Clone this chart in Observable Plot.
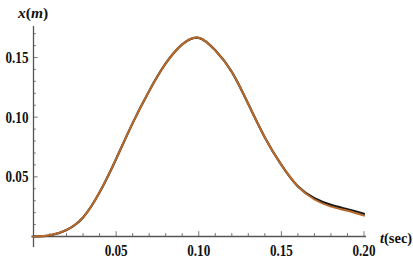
<!DOCTYPE html>
<html>
<head>
<meta charset="utf-8">
<script src="https://cdn.jsdelivr.net/npm/d3@7"></script>
<script src="https://cdn.jsdelivr.net/npm/@observablehq/plot@0.6"></script>
<style>
  html, body { margin: 0; padding: 0; background: #fff; }
  #chart svg { display: block; }
</style>
</head>
<body>
<div id="chart"></div>
<script>
// time (sec)
const tValues = [0, 0.01, 0.02, 0.03, 0.04, 0.05, 0.06, 0.07, 0.08, 0.09, 0.10,
                 0.11, 0.12, 0.13, 0.14, 0.15, 0.16, 0.17, 0.18, 0.19, 0.20];
// displacement x(m), series 1 (black, underneath)
const seriesBlack = [0, 0.001, 0.0055, 0.016, 0.037, 0.065, 0.095, 0.122, 0.145, 0.161, 0.1665,
                     0.156, 0.138, 0.111, 0.083, 0.060, 0.042, 0.032, 0.0265, 0.0228, 0.019];
// displacement x(m), series 2 (orange, on top)
const seriesOrange = [0, 0.001, 0.0055, 0.016, 0.037, 0.065, 0.095, 0.122, 0.145, 0.161, 0.1665,
                      0.156, 0.138, 0.111, 0.083, 0.060, 0.042, 0.031, 0.025, 0.0215, 0.0175];
const xTicksMajor = [0.05, 0.10, 0.15, 0.20];
const yTicksMajor = [0.05, 0.10, 0.15];
const xTicksMinor = d3.range(1, 21).map(i => i / 100);
const yTicksMinor = d3.range(1, 18).map(i => i / 100);

const black = tValues.map((t, i) => ({t, x: seriesBlack[i]}));
const orange = tValues.map((t, i) => ({t, x: seriesOrange[i]}));

const axisColor = "#555";
const font = "Liberation Serif";

const plot = Plot.plot({
  width: 413,
  height: 259,
  margin: 0,
  x: {domain: [0, 0.2], range: [33, 363.5], axis: null},
  y: {domain: [0, 0.15], range: [236, 57], axis: null},
  marks: [
    Plot.ruleY([0], {x1: -0.001, x2: 0.2015, stroke: axisColor, strokeWidth: 1.3}),
    Plot.ruleX([0], {y1: -0.0093, y2: 0.176, stroke: axisColor, strokeWidth: 1.3}),
    Plot.ruleX(xTicksMinor, {x: d => d, y1: 0, y2: d => (Math.round(d * 100) % 5 === 0 ? 0.004 : 0.0025), stroke: axisColor, strokeWidth: 0.8}),
    Plot.ruleY(yTicksMinor, {y: d => d, x1: 0, x2: d => (Math.round(d * 100) % 5 === 0 ? 0.0028 : 0.0017), stroke: axisColor, strokeWidth: 0.8}),
    Plot.text(xTicksMajor, {x: d => d, y: 0, dy: 19.5, lineAnchor: "bottom", text: d => d3.format(".2f")(d), fontFamily: font, fontWeight: "bold", fontSize: 16, fill: "#111", textAnchor: "middle", className: "ticklab"}),
    Plot.text(yTicksMajor, {x: 0, y: d => d, dx: -5, dy: 5.5, lineAnchor: "bottom", text: d => d3.format(".2f")(d), fontFamily: font, fontWeight: "bold", fontSize: 16, fill: "#111", textAnchor: "end", className: "ticklab"}),
    Plot.line(black, {x: "t", y: "x", stroke: "#1a1a1a", strokeWidth: 2.2, curve: "natural"}),
    Plot.line(orange, {x: "t", y: "x", stroke: "#b96a2a", strokeWidth: 2, curve: "natural"})
  ]
});

document.getElementById("chart").appendChild(plot);

const svg = d3.select(plot);
svg.selectAll(".ticklab text")
  .attr("textLength", 23)
  .attr("lengthAdjust", "spacingAndGlyphs");

const yl = svg.append("text")
  .attr("x", 18).attr("y", 18).attr("text-anchor", "start")
  .attr("font-family", font).attr("font-weight", "bold").attr("font-size", 15.5).attr("fill", "#111");
yl.append("tspan").attr("font-style", "italic").text("x");
yl.append("tspan").text("(");
yl.append("tspan").attr("font-style", "italic").text("m");
yl.append("tspan").text(")");

const xl = svg.append("text")
  .attr("x", 380).attr("y", 243).attr("text-anchor", "start")
  .attr("font-family", font).attr("font-weight", "bold").attr("font-size", 14.5).attr("fill", "#111");
xl.append("tspan").attr("font-style", "italic").text("t");
xl.append("tspan").text("(sec)");
</script>
</body>
</html>
